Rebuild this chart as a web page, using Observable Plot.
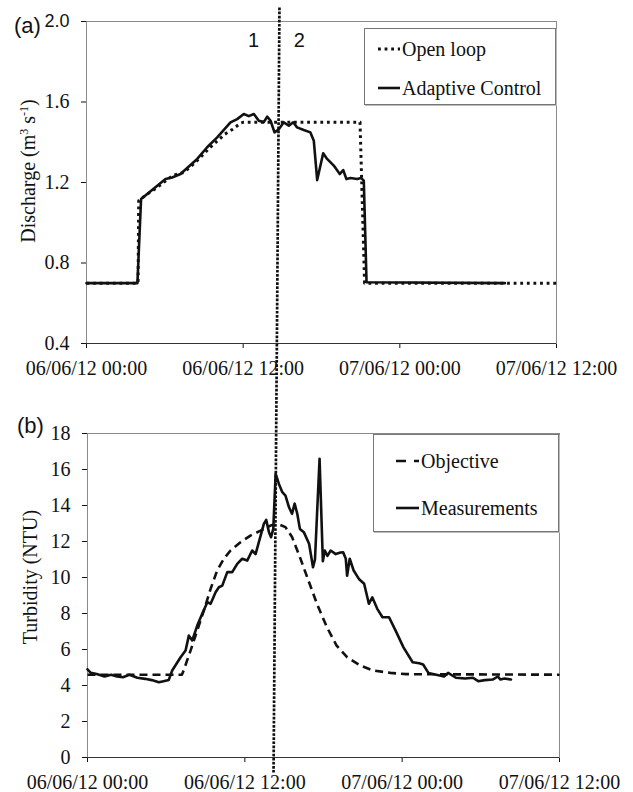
<!DOCTYPE html>
<html>
<head>
<meta charset="utf-8">
<script src="https://cdn.jsdelivr.net/npm/d3@7"></script>
<script src="https://cdn.jsdelivr.net/npm/@observablehq/plot@0.6"></script>
<style>
  body { margin: 0; background: #fff; }
  #wrap { position: relative; width: 633px; height: 792px; overflow: hidden; background: #fff; }
  .panel { position: absolute; left: 0; }
  .tag { position: absolute; font-family: "Liberation Sans", Arial, sans-serif; font-size: 22px; line-height: 22px; color: #111; white-space: nowrap; }
  .ylab { position: absolute; font-family: "Liberation Serif", "Times New Roman", serif; font-size: 20px; line-height: 20px; color: #111; white-space: nowrap; transform: translate(-50%, -50%) rotate(-90deg); }
  .ylab sup { font-size: 12px; vertical-align: 7px; line-height: 0; }
  .legend { position: absolute; border: 1px solid #777; box-shadow: 1px 1px 0 #bbb; background: #fff; font-family: "Liberation Serif", "Times New Roman", serif; font-size: 20px; color: #111; }
  .legend .row { position: absolute; left: 0; height: 24px; display: flex; align-items: center; white-space: nowrap; }
  .legend svg { display: block; }
</style>
</head>
<body>
<div id="wrap"></div>
<script>
// ---------- Data (hours after 06/06/12 00:00) ----------
const tickHours = [0, 12, 24, 36];
const dischargeTicks = [0.4, 0.8, 1.2, 1.6, 2.0];
const turbidityTicks = [0, 2, 4, 6, 8, 10, 12, 14, 16, 18];

// Panel (a): Discharge (m3 s-1)
const openLoopHours  = [0, 3.95, 4.0, 4.6, 5.3, 6.0, 6.6, 7.45, 8.0, 8.73, 9.4, 10.0, 10.6, 11.2, 11.8, 12.05, 20.95, 21.3, 36];
const openLoopValues = [0.7, 0.7, 1.11, 1.14, 1.17, 1.205, 1.235, 1.25, 1.28, 1.325, 1.37, 1.405, 1.44, 1.465, 1.495, 1.50, 1.50, 0.70, 0.70];

const adaptiveHours  = [0, 3.9, 4.18, 4.65, 5.28, 6.05, 6.56, 7.2, 7.71, 8.48, 9.24, 10.01, 10.52, 11.03, 11.54, 12.05, 12.43, 12.82, 13.2, 13.58, 13.84, 14.1, 14.4, 14.73, 15.11, 15.5, 15.83, 16.13, 16.64, 17.15, 17.41, 17.67, 18.13, 18.43, 18.94, 19.4, 19.66, 19.91, 20.22, 20.73, 21.04, 21.24, 21.45, 32.05];
const adaptiveValues = [0.7, 0.7, 1.118, 1.143, 1.176, 1.217, 1.225, 1.242, 1.272, 1.317, 1.375, 1.424, 1.461, 1.499, 1.515, 1.540, 1.530, 1.540, 1.507, 1.500, 1.527, 1.507, 1.449, 1.465, 1.499, 1.482, 1.499, 1.474, 1.461, 1.449, 1.408, 1.212, 1.345, 1.317, 1.284, 1.242, 1.262, 1.217, 1.222, 1.217, 1.222, 1.209, 0.704, 0.70];

// Panel (b): Turbidity (NTU)
const objectiveHours  = [0, 7.2, 7.35, 7.86, 8.37, 8.88, 9.39, 9.89, 10.4, 10.91, 11.67, 12.43, 13.2, 14.0, 14.6, 15.1, 15.6, 16.2, 16.85, 17.5, 18.26, 19.0, 19.8, 20.8, 21.8, 23.1, 24.3, 36];
const objectiveValues = [4.6, 4.6, 4.87, 5.94, 7.06, 8.17, 9.37, 10.39, 11.04, 11.5, 11.96, 12.33, 12.6, 12.9, 12.95, 12.8, 12.25, 11.13, 9.83, 8.54, 7.24, 6.22, 5.57, 5.11, 4.83, 4.7, 4.63, 4.6];

const measHours  = [0, 0.25, 0.7, 1.3, 1.8, 2.25, 2.7, 3.2, 3.8, 4.4,
                    4.9, 5.44, 5.8, 6.2, 6.46, 7.1, 7.48, 7.73, 7.99, 8.37,
                    8.75, 9.14, 9.39, 9.77, 10.02, 10.28, 10.66, 11.04, 11.42, 11.8,
                    12.18, 12.56, 12.82, 13.07, 13.45, 13.63, 13.84, 14.0, 14.17, 14.35,
                    14.6, 14.86, 15.1, 15.37, 15.6, 15.8, 16.0, 16.2, 16.5, 16.9,
                    17.2, 17.35, 17.7, 17.95, 18.1, 18.3, 18.55, 18.93, 19.3, 19.5,
                    19.7, 19.8, 20.0, 20.3, 20.7, 21.1, 21.46, 21.72, 22.1, 22.5,
                    23.0, 23.5, 24.1, 24.8, 25.3, 25.6, 26.0, 26.6, 27.2, 27.5,
                    28.1, 28.8, 29.4, 29.8, 30.3, 30.9, 31.3, 31.5, 31.8, 32.3];
const measValues = [4.9, 4.7, 4.64, 4.5, 4.6, 4.5, 4.46, 4.6, 4.43, 4.37,
                    4.3, 4.18, 4.24, 4.31, 4.83, 5.57, 5.94, 6.77, 6.5, 7.33,
                    7.98, 8.63, 8.54, 9.18, 9.46, 9.55, 10.3, 10.3, 10.76, 11.04,
                    10.94, 11.5, 11.3, 11.96, 12.98, 13.2, 12.52, 12.24, 12.7, 15.76,
                    15.2, 14.74, 14.55, 13.9, 13.54, 14.1, 13.54, 12.7, 12.52, 11.87,
                    10.57, 11.0, 16.6, 10.9, 11.5, 11.2, 11.5, 11.3, 11.39, 11.4,
                    11.04, 10.1, 11.04, 10.39, 9.92, 9.65, 8.54, 8.9, 8.26, 7.79,
                    7.79, 7.05, 6.12, 5.29, 5.24, 5.17, 4.7, 4.6, 4.5, 4.7,
                    4.43, 4.39, 4.43, 4.24, 4.3, 4.33, 4.5, 4.33, 4.39, 4.33];

// Annotations: divider between phase 1 and 2 (hours, value), phase labels
const dividerTopHours = [14.78, 14.56];
const dividerTopValues = [2.0695, 0.2163];
const dividerBottomHours = [14.42, 14.19];
const dividerBottomValues = [20.94, -0.833];
const phaseLabels = ["1", "2"];
const phaseHours = [12.79, 16.31];
const phaseValues = [1.906, 1.906];

// ---------- Build ----------
const base = Date.UTC(2012, 5, 6, 0, 0);
const t = h => new Date(base + h * 3600e3);
const zip = (hs, vs) => hs.map((h, i) => ({ time: t(h), value: vs[i] }));
const fmt = d3.utcFormat("%d/%m/%y %H:%M");
const serif = '"Liberation Serif", "Times New Roman", serif';
const sans = '"Liberation Sans", Arial, sans-serif';

const openLoop = zip(openLoopHours, openLoopValues);
const adaptive = zip(adaptiveHours, adaptiveValues);
const objective = zip(objectiveHours, objectiveValues);
const meas = zip(measHours, measValues);
const divTop = [{ x1: t(dividerTopHours[0]), y1: dividerTopValues[0], x2: t(dividerTopHours[1]), y2: dividerTopValues[1] }];
const divBot = [{ x1: t(dividerBottomHours[0]), y1: dividerBottomValues[0], x2: t(dividerBottomHours[1]), y2: dividerBottomValues[1] }];
const phases = phaseLabels.map((l, i) => ({ label: l, time: t(phaseHours[i]), value: phaseValues[i] }));

const commonStyle = { fontFamily: serif, fontSize: "20px", color: "#111", background: "transparent", overflow: "visible" };
const xOpts = { type: "utc", domain: [t(0), t(36)], ticks: tickHours.map(t), tickFormat: fmt, tickSize: 5, tickPadding: 12, label: null };
const divStyle = { stroke: "#111", strokeWidth: 2.7, strokeDasharray: "2.7,1.4" };

const topPlot = Plot.plot({
  width: 633, height: 380,
  marginLeft: 86, marginRight: 77, marginTop: 21, marginBottom: 37,
  style: commonStyle,
  x: xOpts,
  y: { domain: [0.4, 2.0], ticks: dischargeTicks, tickFormat: d3.format(".1f"), tickSize: 5, tickPadding: 12, label: null },
  marks: [
    Plot.frame({ stroke: "#8a8a8a" }),
    Plot.ruleY([0.4], { stroke: "#333" }),
    Plot.line(openLoop, { x: "time", y: "value", stroke: "#111", strokeWidth: 3, strokeDasharray: "2.8,3.8", strokeLinecap: "butt" }),
    Plot.line(adaptive, { x: "time", y: "value", stroke: "#111", strokeWidth: 2.6 }),
    Plot.link(divTop, { x1: "x1", y1: "y1", x2: "x2", y2: "y2", ...divStyle }),
    Plot.text(phases, { x: "time", y: "value", text: "label", fontFamily: sans, fontSize: 20, fill: "#111" })
  ]
});

const botPlot = Plot.plot({
  width: 633, height: 412,
  marginLeft: 87, marginRight: 74, marginTop: 53, marginBottom: 35,
  style: commonStyle,
  x: xOpts,
  y: { domain: [0, 18], ticks: turbidityTicks, tickSize: 5, tickPadding: 12, label: null },
  marks: [
    Plot.frame({ stroke: "#8a8a8a" }),
    Plot.ruleY([0], { stroke: "#333" }),
    Plot.line(objective, { x: "time", y: "value", stroke: "#111", strokeWidth: 2.6, strokeDasharray: "8,5", strokeLinecap: "butt" }),
    Plot.line(meas, { x: "time", y: "value", stroke: "#111", strokeWidth: 2.6 }),
    Plot.link(divBot, { x1: "x1", y1: "y1", x2: "x2", y2: "y2", ...divStyle })
  ]
});

const wrap = document.getElementById("wrap");
topPlot.classList.add("panel"); topPlot.style.top = "0px";
botPlot.classList.add("panel"); botPlot.style.top = "380px";
wrap.appendChild(topPlot);
wrap.appendChild(botPlot);

// the "2.0" label in the original uses a sans face
d3.select(topPlot).selectAll("text").filter(function () { return this.textContent === "2.0"; })
  .style("font-family", sans).style("font-size", "18px");

function addDiv(cls, html, css) {
  const d = document.createElement("div");
  d.className = cls; d.innerHTML = html;
  Object.assign(d.style, css);
  wrap.appendChild(d);
  return d;
}
addDiv("tag", "(a)", { left: "14px", top: "15px" });
addDiv("tag", "(b)", { left: "17px", top: "415px" });
addDiv("ylab", "Discharge (m<sup>3</sup> s<sup>-1</sup>)", { left: "28px", top: "171px" });
addDiv("ylab", "Turbidity (NTU)", { left: "30px", top: "577px" });

const legendA = [
  { label: "Open loop", dash: "2.8,3.8", w: 3 },
  { label: "Adaptive Control", dash: null, w: 2.6 }
];
const legendB = [
  { label: "Objective", dash: "10,8", w: 2.6 },
  { label: "Measurements", dash: null, w: 2.6 }
];
function legend(items, box, rowsY, symX, symW) {
  const L = addDiv("legend", "", { left: box[0] + "px", top: box[1] + "px", width: box[2] + "px", height: box[3] + "px" });
  items.forEach((it, i) => {
    const r = document.createElement("div");
    r.className = "row";
    r.style.top = (rowsY[i] - 12) + "px";
    r.style.left = symX + "px";
    r.innerHTML = `<svg width="${symW}" height="10"><line x1="0" y1="5" x2="${symW}" y2="5" stroke="#111" stroke-width="${it.w}" ${it.dash ? `stroke-dasharray="${it.dash}"` : ""}/></svg><span style="margin-left:2px">${it.label}</span>`;
    L.appendChild(r);
  });
}
legend(legendA, [364, 28, 190, 75], [20, 59], 13, 22);
legend(legendB, [373, 434, 184, 96], [26, 73], 22, 23);
</script>
</body>
</html>
